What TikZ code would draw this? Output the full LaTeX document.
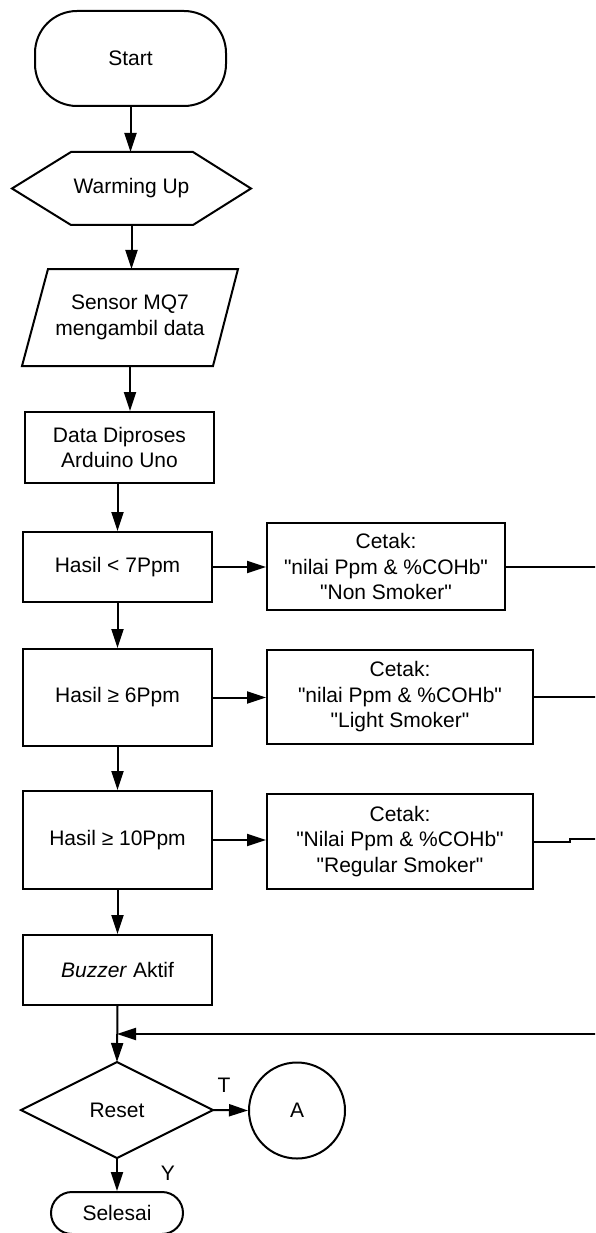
\documentclass[tikz,border=0pt]{standalone}
\usepackage{fontspec}
\setmainfont{Liberation Sans}
\usetikzlibrary{arrows.meta}
\newcommand{\dq}{\XeTeXglyph\XeTeXcharglyph"22\relax}
\begin{document}
\begin{tikzpicture}[x=1pt,y=-1pt, line width=2pt,
  font=\fontsize{21}{25.5}\selectfont,
  box/.style={draw, rectangle, align=center, inner sep=0pt},
  ghost/.style={rectangle, inner sep=0pt, align=center},
  arr/.style={-{Triangle[length=19pt,width=12pt]}}]
\useasboundingbox (0,0) rectangle (595,1233);
\clip (0,0) rectangle (595,1233);

% nodes
\node[draw, rounded corners=42pt, minimum width=191pt, minimum height=95pt, inner sep=0pt] (start) at (130.5,58.5) {Start};
\node[ghost, minimum width=237pt, minimum height=71pt] (warm) at (131.5,188.5) {Warming Up};
\draw (warm.west) -- ([xshift=59pt]warm.north west) -- ([xshift=-58pt]warm.north east) -- (warm.east) -- ([xshift=-58pt]warm.south east) -- ([xshift=59pt]warm.south west) -- cycle;
\node[ghost, minimum width=214pt, minimum height=95pt] (sensor) at (130,317.5) {Sensor MQ7\\mengambil data};
\draw ([xshift=26pt]sensor.north west) -- (sensor.north east) -- ([xshift=-25pt]sensor.south east) -- (sensor.south west) -- cycle;
\node[box, minimum width=189pt, minimum height=71pt] (data) at (119.5,447.5) {Data Diproses\\Arduino Uno};
\node[box, minimum width=189pt, minimum height=70pt] (h7) at (117.5,567) {Hasil < 7Ppm};
\node[box, minimum width=238pt, minimum height=87pt] (c1) at (386,566.5) {Cetak:\\\dq nilai Ppm \& \%COHb\dq\\\dq Non Smoker\dq};
\node[box, minimum width=189pt, minimum height=97pt] (h6) at (117.5,697.5) {Hasil ≥ 6Ppm};
\node[box, minimum width=266pt, minimum height=94pt] (c2) at (400,697) {Cetak:\\\dq nilai Ppm \& \%COHb\dq\\\dq Light Smoker\dq};
\node[box, minimum width=189pt, minimum height=98pt] (h10) at (117.5,840) {Hasil ≥ 10Ppm};
\node[box, minimum width=266pt, minimum height=95pt] (c3) at (400,841.5) {Cetak:\\\dq Nilai Ppm \& \%COHb\dq\\\dq Regular Smoker\dq};
\node[box, minimum width=189pt, minimum height=70pt] (buzz) at (117.5,970) {\textit{Buzzer} Aktif};
\node[ghost, minimum width=190pt, minimum height=94pt] (reset) at (117,1110) {Reset};
\draw (reset.north) -- (reset.east) -- (reset.south) -- (reset.west) -- cycle;
\node[draw, circle, minimum size=96pt, inner sep=0pt] (A) at (297,1110.5) {A};
\node[draw, rounded corners=21pt, minimum width=132pt, minimum height=42pt, inner sep=0pt] (sel) at (117,1213) {Selesai};
\node (T) at (224,1085) {T};
\node (Y) at (168,1173) {Y};

% free ends at the right edge
\coordinate (r1) at (596,566.5);
\coordinate (r3) at (596,838.5);
\coordinate (rin) at (596,1034);

% connectors
\draw[arr] (start.south) -- (start.south |- warm.north);
\draw[arr] (warm.south) -- (warm.south |- sensor.north);
\draw[arr] (sensor.south) -- (sensor.south |- data.north);
\draw[arr] (data.south -| h7.north) -- (h7.north);
\draw[arr] (h7.east) -- (h7.east -| c1.west);
\draw (c1.east) -- (c1.east -| r1);
\draw[arr] (h7.south) -- (h6.north);
\draw[arr] (h6.east) -- (h6.east -| c2.west);
\draw (c2.east) -- (c2.east -| r1);
\draw[arr] (h6.south) -- (h10.north);
\draw[arr] (h10.east) -- (h10.east -| c3.west);
\draw (c3.east) -- ++(36,0) |- (r3);
\draw[arr] (h10.south) -- (buzz.north);
\draw[arr] (buzz.south) -- (reset.north);
\draw[arr] (rin) -- (rin -| reset.north);
\draw[arr] (reset.east) -- (A.west);
\draw[arr] (reset.south) -- (sel.north);
\end{tikzpicture}
\end{document}
